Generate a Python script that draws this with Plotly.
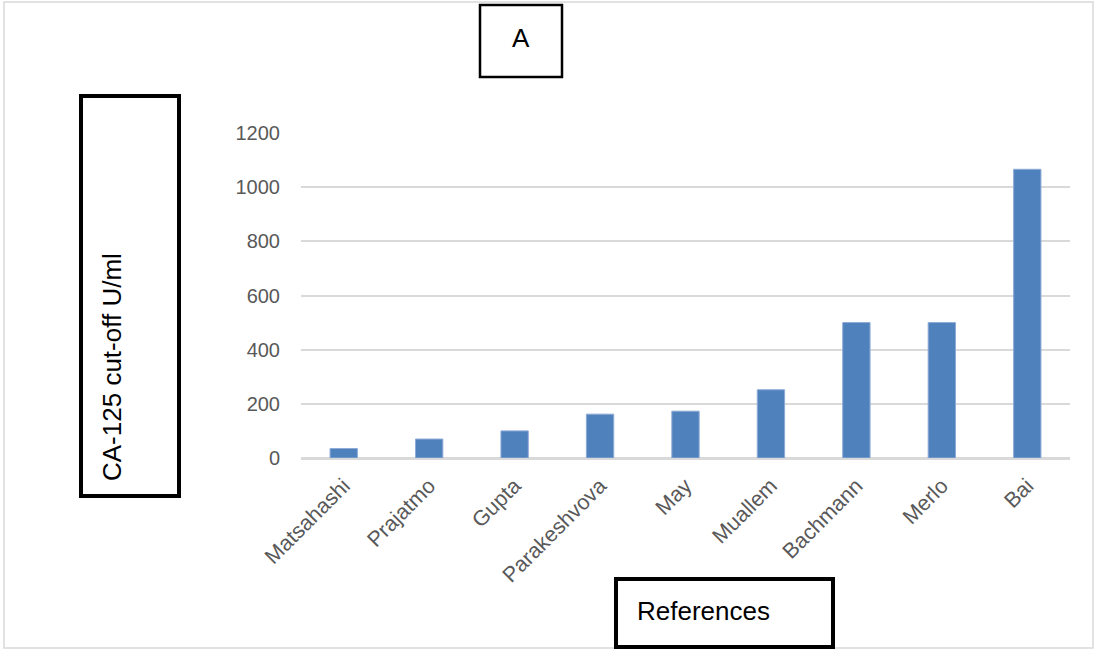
import plotly.graph_objects as go

# CA-125 cut-off values reported by each study
references = ["Matsahashi", "Prajatmo", "Gupta", "Parakeshvova", "May",
              "Muallem", "Bachmann", "Merlo", "Bai"]
cutoffs = [35, 70, 100, 162, 173, 252, 500, 500, 1066]
y_ticks = [0, 200, 400, 600, 800, 1000, 1200]

W, H = 1097, 651
L, R, T, B = 301, 1070, 133, 458  # plot area in pixels


def px(x):
    return (x - L) / (R - L)


def py(y):
    return (B - y) / (B - T)


FONT = "Liberation Sans"

fig = go.Figure(go.Bar(
    x=references, y=cutoffs,
    marker=dict(color="#4F81BD", line=dict(color="#8EAAD6", width=1)),
))

fig.update_layout(
    width=W, height=H,
    margin=dict(l=L, r=W - R, t=T, b=H - B, autoexpand=False),
    paper_bgcolor="white", plot_bgcolor="white",
    bargap=0.68, showlegend=False,
    font=dict(family=FONT, color="#595959"),
)
fig.update_xaxes(
    tickangle=-45, tickfont=dict(size=21.5, color="#595959"),
    showgrid=False, showline=True, linecolor="#D9D9D9", linewidth=1.5,
    ticks="", ticklabelstandoff=5,
)
fig.update_yaxes(
    range=[0, 1200], tickvals=y_ticks, tickfont=dict(size=20, color="#595959"),
    showgrid=True, gridcolor="#D9D9D9", gridwidth=1.5,
    zeroline=True, zerolinecolor="#D9D9D9", zerolinewidth=1.5,
    ticklabelstandoff=20,
)

shapes = [
    # outer frame
    dict(type="rect", x0=px(4), x1=px(1093), y0=py(2), y1=py(648),
         line=dict(color="#D9D9D9", width=1.5)),
    # "A" label box
    dict(type="rect", x0=px(480), x1=px(562), y0=py(5), y1=py(77),
         line=dict(color="black", width=2.5)),
    # y-axis title box
    dict(type="rect", x0=px(81), x1=px(179), y0=py(96), y1=py(496),
         line=dict(color="black", width=4)),
    # x-axis title box
    dict(type="rect", x0=px(616), x1=px(833), y0=py(579), y1=py(647),
         line=dict(color="black", width=4)),
]
for s in shapes:
    s.update(xref="paper", yref="paper", layer="above")
fig.update_layout(shapes=shapes)

labels = [
    dict(text="A", x=521, y=38, angle=0),
    dict(text="CA-125 cut-off U/ml", x=112, y=367, angle=-90),
    dict(text="References", x=703, y=611, angle=0),
]
for lab in labels:
    fig.add_annotation(
        text=lab["text"], x=px(lab["x"]), y=py(lab["y"]),
        xref="paper", yref="paper", xanchor="center", yanchor="middle",
        textangle=lab["angle"], showarrow=False,
        font=dict(family=FONT, size=26, color="black"),
    )

fig.write_html("out.html")
